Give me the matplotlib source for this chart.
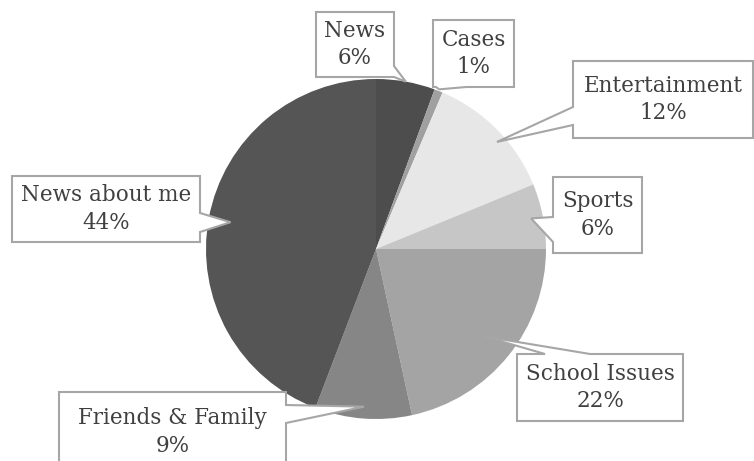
import numpy as np
import matplotlib
matplotlib.use('Agg')
from matplotlib import pyplot as plt
from matplotlib.patches import Polygon

# data (percent of respondents)
labels = ['News', 'Cases', 'Entertainment', 'Sports', 'School Issues',
          'Friends & Family', 'News about me']
values = [5.6, 0.8, 12.4, 6.2, 21.6, 9.2, 44.2]
colors = ['#4d4d4d', '#a0a0a0', '#e7e7e7', '#c6c6c6', '#a4a4a4',
          '#868686', '#555555']

# callout layout in pixel coords: box (x0, y0, x1, y1), side of pointer,
# pointer base along that side, tip radius (share of R), tip position in wedge
callouts = {
    'News':             ((316, 12, 394, 77),   'right',  (66, 77),   1.0,  0.5),
    'Cases':            ((433, 20, 514, 87),   'bottom', (436, 466), 1.01, 0.5),
    'Entertainment':    ((573, 61, 753, 138),  'left',   (107, 125), 0.95, 0.57),
    'Sports':           ((553, 177, 642, 253), 'left',   (217, 242), 0.93, 0.5),
    'School Issues':    ((517, 354, 683, 421), 'top',    (545, 590), 0.82, 0.5),
    'Friends & Family': ((59, 392, 286, 490),  'right',  (405, 423), 0.93, 0.5),
    'News about me':    ((12, 176, 200, 242),  'right',  (213, 232), 0.87, 0.5),
}
text_y = {'Friends & Family': 432}

W, H = 754, 461
cx, cy, R = 376, 249, 170


def callout_poly(box, side, base, tip):
    x0, y0, x1, y1 = box
    a, b = base
    pts = [(x0, y0)]
    if side == 'top':
        pts += [(a, y0), tip, (b, y0)]
    pts += [(x1, y0)]
    if side == 'right':
        pts += [(x1, a), tip, (x1, b)]
    pts += [(x1, y1)]
    if side == 'bottom':
        pts += [(b, y1), tip, (a, y1)]
    pts += [(x0, y1)]
    if side == 'left':
        pts += [(x0, b), tip, (x0, a)]
    return pts


fig = plt.figure(figsize=(W / 100, H / 100), dpi=100)
ax = fig.add_axes([0, 0, 1, 1])

# y axis is flipped, so counterclock=True runs clockwise on screen
wedges, _ = ax.pie(values, colors=colors, center=(cx, cy), radius=R,
                   startangle=-90, counterclock=True,
                   wedgeprops=dict(linewidth=0))
ax.set_xlim(0, W)
ax.set_ylim(H, 0)
ax.set_aspect('equal')
ax.axis('off')

total = sum(values)
for w, lab, v in zip(wedges, labels, values):
    box, side, base, tr, tf = callouts[lab]
    ang = np.deg2rad(w.theta1 + tf * (w.theta2 - w.theta1))
    tip = (cx + tr * R * np.cos(ang), cy + tr * R * np.sin(ang))
    poly = Polygon(callout_poly(box, side, base, tip), closed=True,
                   facecolor='white', edgecolor='#a6a6a6', lw=1.5, zorder=3)
    ax.add_patch(poly)
    tx = (box[0] + box[2]) / 2
    ty = text_y.get(lab, (box[1] + box[3]) / 2)
    ax.text(tx, ty, '%s\n%d%%' % (lab, round(v / total * 100)),
            ha='center', va='center', fontsize=15.5, family='DejaVu Serif',
            color='#404040', linespacing=1.35, zorder=4)

fig.savefig('out.png', dpi=100)
